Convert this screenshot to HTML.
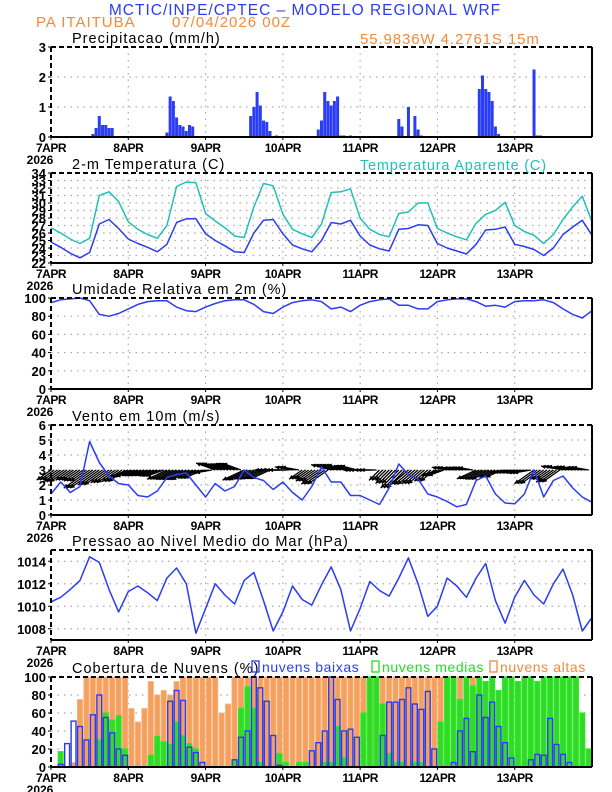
<!DOCTYPE html>
<html><head><meta charset="utf-8"><style>
html,body{margin:0;padding:0;background:#fff;}
svg{display:block;font-family:"Liberation Sans",sans-serif;}
</style></head><body>
<svg id="chart" width="612" height="792" viewBox="0 0 612 792" xmlns="http://www.w3.org/2000/svg">
<text x="305" y="15" text-anchor="middle" font-size="15.5" fill="#2a3cf5" letter-spacing="1.0">MCTIC/INPE/CPTEC – MODELO REGIONAL WRF</text>
<text x="36" y="27" font-size="15" fill="#f08a3c" letter-spacing="1.0">PA ITAITUBA</text>
<text x="172" y="27" font-size="15" fill="#f08a3c" letter-spacing="1.0">07/04/2026 00Z</text>
<text x="360" y="44" font-size="15" fill="#f08a3c" letter-spacing="0.9">55.9836W 4.2761S 15m</text>
<g id="g"></g>
</svg>
<script>
// ---- data (3-hourly series, t = 0..168 h) ----
const hours3 = [0,3,6,9,12,15,18,21,24,27,30,33,36,39,42,45,48,51,54,57,60,63,66,69,72,75,78,81,84,87,90,93,96,99,102,105,108,111,114,117,120,123,126,129,132,135,138,141,144,147,150,153,156,159,162,165,168];
const tempC = [24.8,24.1,23.3,22.7,23.4,27.2,27.8,26.6,25.2,24.6,24.1,23.5,24.5,27.4,27.9,27.9,25.9,25.0,24.3,23.5,23.4,26.0,27.7,27.8,25.9,24.4,23.9,23.5,25.0,27.4,27.2,27.7,25.6,24.4,23.9,23.6,26.5,26.6,27.1,27.0,24.6,24.0,23.6,23.2,24.5,26.4,26.5,26.8,24.5,24.2,23.8,23.0,24.0,25.8,26.8,27.7,25.7];
const apparentC = [26.7,26.0,25.2,24.6,25.3,31.0,31.5,30.2,27.5,26.5,25.8,25.3,27.0,32.2,32.8,32.7,28.6,27.6,26.7,25.6,25.4,29.5,32.6,32.3,28.5,26.5,25.9,25.4,27.2,31.4,31.5,31.9,28.0,26.5,25.8,25.5,28.6,28.8,30.0,30.0,26.6,26.0,25.5,25.1,27.3,28.5,29.0,30.1,27.0,26.2,25.7,24.6,25.8,27.8,29.5,30.9,27.5];
const relHum = [95,98,99,100,97,82,80,83,88,93,96,97,97,90,86,85,90,94,97,98,98,93,85,83,90,95,97,98,96,88,90,85,92,96,98,99,92,92,88,88,96,98,99,99,96,91,92,90,96,97,97,98,95,88,82,78,86];
const windSpeed = [1.4,2.2,1.5,1.9,4.9,3.5,2.6,2.1,2.0,1.3,1.2,1.6,2.5,2.7,2.8,2.0,1.2,2.1,1.6,1.9,3.0,2.5,2.3,1.7,2.2,1.5,1.0,1.9,3.2,2.2,2.2,1.3,1.3,1.0,0.7,1.8,3.4,2.7,2.4,1.4,1.2,0.9,0.55,0.7,2.3,2.6,1.4,0.8,0.75,1.4,3.0,1.2,2.3,2.6,1.8,1.2,0.85];
const windAngle = [35,35,35,35,35,35,35,35,20,20,20,20,25,25,25,25,10,-20,-20,-20,25,25,25,0,0,-10,35,35,35,-15,-15,-15,0,0,45,45,45,40,40,40,20,-10,-10,-10,25,25,25,10,10,10,35,35,35,-10,-10,-10,-10];
const pressure = [1010.4,1010.8,1011.5,1012.3,1014.4,1013.9,1011.5,1009.5,1011.3,1011.8,1011.2,1010.5,1012.5,1013.4,1012.0,1007.6,1009.8,1012.0,1011.0,1010.2,1012.3,1013.0,1010.5,1007.8,1009.5,1011.8,1010.6,1010.1,1011.9,1013.5,1011.5,1007.8,1009.8,1012.2,1011.4,1010.9,1012.5,1014.3,1012.0,1009.1,1010.0,1012.5,1011.8,1010.8,1012.5,1013.8,1010.5,1008.5,1010.8,1012.3,1011.0,1010.2,1012.0,1013.3,1011.0,1007.8,1009.0];
// precipitation (hourly, sparse)
const precipHours = [13,14,15,16,17,18,19, 36,37,38,39,40,41,42,43,44, 62,63,64,65,66,67,68,70, 83,84,85,86,87,88,89,90,91,93, 108,109,111,113,114,115, 133,134,135,136,137,138,139, 150,151,152];
const precipVals  = [0.1,0.3,0.7,0.4,0.4,0.3,0.3, 0.15,1.35,1.2,0.65,0.4,0.35,0.2,0.4,0.35, 0.7,1.0,1.5,1.05,0.55,0.5,0.2,0.05, 0.25,0.55,1.5,1.2,1.05,1.2,1.35,0.05,0.05,0.05, 0.6,0.35,1.0,0.7,0.25,0.05, 1.6,2.05,1.6,1.5,1.2,0.35,0.1, 2.25,0.05,0.05];
// cloud cover (2-hourly, t = 0..166)
const cloudLow = [0,3,26,51,45,30,58,80,55,38,20,13, 0,0,0,0,0,0, 73,85,74,22,16,5, 0,0,0,0,8,33, 40,100,88,73,35,2, 0,0,0,0,18,27, 40,100,75,40,42,33, 0,0,0,35,72,72, 75,88,70,64,84,20, 0,0,5,40,54,17, 80,55,72,45,27,10, 0,0,8,14,13,54, 25,14,5,0,0,0];
const cloudMid = [0,17,0,0,0,0,0,30,60,52,57,20, 0,0,0,13,34,28, 25,50,35,26,20,0, 0,0,0,0,8,65, 89,65,5,0,0,15, 5,0,5,5,0,0, 5,5,45,10,0,0, 60,100,100,70,15,5, 5,0,5,5,0,0, 50,100,100,75,100,90, 100,95,100,85,100,100, 95,100,100,95,100,100, 100,100,100,100,60,20];
const cloudHigh = [0,0,0,5,75,100,100,100,100,100,100,100, 65,50,65,95,80,85, 80,95,100,100,100,100, 100,100,60,70,100,100, 100,100,100,100,100,100, 100,100,100,100,100,100, 100,100,100,100,100,100, 100,100,100,100,100,100, 100,100,100,100,100,100, 100,30,100,100,50,100, 0,0,0,0,0,0, 0,0,0,0,0,0, 0,0,0,0,0,0];
const dayLabels = ["7APR","8APR","9APR","10APR","11APR","12APR","13APR"];
const precipTicks = [0,1,2,3];
const tempTicks = [22,23,24,25,26,27,28,29,30,31,32,33,34];
const rhTicks = [0,20,40,60,80,100];
const windTicks = [0,1,2,3,4,5,6];
const presTicks = [1008,1010,1012,1014];
const cloudTicks = [0,20,40,60,80,100];

// ---- layout ----
const NS="http://www.w3.org/2000/svg";
const G=document.getElementById('g');
const X0=51,X1=592,TMAX=168;
const xs=t=>X0+t*(X1-X0)/TMAX;
const BLUE="#2a3cf5",CYAN="#20c0b8";
function el(tag,attrs,parent){const e=document.createElementNS(NS,tag);for(const k in attrs)e.setAttribute(k,attrs[k]);(parent||G).appendChild(e);return e;}
function txt(x,y,s,attrs,parent){const e=el('text',Object.assign({x:x,y:y},attrs||{}),parent);e.textContent=s;return e;}
function panel(name,top,bot,vmin,vmax,ticks,title){
  const g=el('g',{});
  
  
  const ys=v=>bot-(v-vmin)/(vmax-vmin)*(bot-top);
  ticks.forEach(v=>{if(v>vmin&&v<vmax){const l=el('line',{x1:X0,x2:X1,y1:ys(v),y2:ys(v),stroke:'#aaa','stroke-width':1.2,'stroke-dasharray':'1.5,5'},g);}});
  for(let d=1;d<7;d++){const l=el('line',{x1:xs(d*24),x2:xs(d*24),y1:top,y2:bot,stroke:'#aaa','stroke-width':1.2,'stroke-dasharray':'1.5,5'},g);}
  ticks.forEach(v=>{const t=txt(X0-5,ys(v)+5,String(v),{'text-anchor':'end','font-size':13,'font-weight':'bold',fill:'#000'},g);
    const tk=el('line',{x1:X0-3,x2:X0,y1:ys(v),y2:ys(v),stroke:'#000','stroke-width':1},g);});
  dayLabels.forEach((s,i)=>{const t=txt(xs(i*24),bot+15,s,{'text-anchor':'middle','font-size':12,'font-weight':'bold','letter-spacing':'-0.5',fill:'#000'},g);
    const tk=el('line',{x1:xs(i*24),x2:xs(i*24),y1:bot,y2:bot+3,stroke:'#000','stroke-width':1},g);});
  const yr=txt(X0-11,bot+27,'2026',{'text-anchor':'middle','font-size':12,'font-weight':'bold',fill:'#000'},g);
  
  const tt=txt(72,top-4,title,{'font-size':14.5,'letter-spacing':'1.0',fill:'#000'},g);
  
  return {g:g,ys:ys,top:top,bot:bot};
}
function frame(p,name){
  const f=el('g',{},p.g);
  
  el('line',{x1:X0,x2:X1,y1:p.top,y2:p.top,stroke:'#000','stroke-width':2,'stroke-dasharray':'5,3'},f);
  el('line',{x1:X0,x2:X0,y1:p.top,y2:p.bot,stroke:'#000','stroke-width':2,'stroke-dasharray':'5,3'},f);
  el('line',{x1:X1,x2:X1,y1:p.top,y2:p.bot,stroke:'#000','stroke-width':2},f);
  el('line',{x1:X0,x2:X1,y1:p.bot,y2:p.bot,stroke:'#000','stroke-width':2},f);
}
function line(p,vals,color,name){
  const d=vals.map((v,i)=>(i?'L':'M')+xs(hours3[i]).toFixed(1)+','+p.ys(v).toFixed(1)).join('');
  const e=el('path',{d:d,fill:'none',stroke:color,'stroke-width':1.5,'stroke-linejoin':'round'},p.g);
  
}

// Panel 1: precipitation
const p1=panel('precip',47,137,0,3,precipTicks,'Precipitacao (mm/h)');
precipHours.forEach((h,i)=>{const y=p1.ys(precipVals[i]);const b=el('rect',{x:xs(h)-1.5,y:y,width:3,height:p1.bot-y,fill:BLUE},p1.g);
  });
frame(p1,'precip');

// Panel 2: temperature
const p2=panel('temp',173,263,22,34,tempTicks,'2-m Temperatura (C)');
line(p2,apparentC,CYAN,'apparent-temp-line');
line(p2,tempC,BLUE,'temp-line');
frame(p2,'temp');
const at=txt(360,170,'Temperatura Aparente (C)',{'font-size':14.5,'letter-spacing':'0.8',fill:CYAN},p2.g);


// Panel 3: RH
const p3=panel('rh',298,389,0,100,rhTicks,'Umidade Relativa em 2m (%)');
line(p3,relHum,BLUE,'rh-line');
frame(p3,'rh');

// Panel 4: wind
const p4=panel('wind',425,515,0,6,windTicks,'Vento em 10m (m/s)');
windSpeed.forEach((s,i)=>{
  if(hours3[i]>=TMAX)return;
  const a=windAngle[i]*Math.PI/180,len=12+s*4;
  for(let k=0;k<3;k++){
    const x0=xs(hours3[i]+k),y0=p4.ys(3);
    const x1=x0-Math.cos(a)*len,y1=y0+Math.sin(a)*len;
    const ang=Math.atan2(y1-y0,x1-x0);
    const ag=el('g',{},p4.g);
    
    
    el('line',{x1:x0,y1:y0,x2:x1,y2:y1,stroke:'#000','stroke-width':1.3},ag);
    const hx1=x1-5*Math.cos(ang-0.45),hy1=y1-5*Math.sin(ang-0.45),hx2=x1-5*Math.cos(ang+0.45),hy2=y1-5*Math.sin(ang+0.45);
    el('polygon',{points:`${x1},${y1} ${hx1},${hy1} ${hx2},${hy2}`,fill:'#000'},ag);
  }
});
line(p4,windSpeed,BLUE,'wind-speed-line');
frame(p4,'wind');

// Panel 5: pressure
const p5=panel('pressure',550,640,1007,1015,presTicks,'Pressao ao Nivel Medio do Mar (hPa)');
line(p5,pressure,BLUE,'pressure-line');
frame(p5,'pressure');

// Panel 6: clouds
const p6=panel('cloud',677,767,0,100,cloudTicks,'Cobertura de Nuvens (%)');
const bw=(X1-X0)/84;
cloudHigh.forEach((v,i)=>{if(v<=0)return;const y=p6.ys(v);const b=el('rect',{x:X0+i*bw+0.6,y:y,width:bw-1.2,height:p6.bot-y,fill:'#f5a05c',stroke:'#f7b584','stroke-width':0.8},p6.g);
  });
cloudMid.forEach((v,i)=>{if(v<=0)return;const y=p6.ys(v);const b=el('rect',{x:X0+i*bw+0.8,y:y,width:bw-1.6,height:p6.bot-y,fill:'#38d62a',stroke:'#22ee22','stroke-width':1.2},p6.g);
  });
cloudLow.forEach((v,i)=>{const y=p6.ys(v);const b=el('rect',{x:X0+i*bw+0.8,y:y,width:bw-1.6,height:p6.bot-y,fill:'none',stroke:BLUE,'stroke-width':1.4},p6.g);
  });
frame(p6,'cloud');
const lg=el('g',{},p6.g);


[[252,BLUE,'nuvens baixas'],[372,'#22dd22','nuvens medias'],[490,'#f08a3c','nuvens altas']].forEach(e=>{
  const r=el('rect',{x:e[0],y:661,width:7,height:11,fill:'none',stroke:e[1],'stroke-width':1.3},lg);
  
  const t=txt(e[0]+10,672,e[2],{'font-size':14,'letter-spacing':'0.6',fill:e[1]},lg);
  
});
</script>
</body></html>
